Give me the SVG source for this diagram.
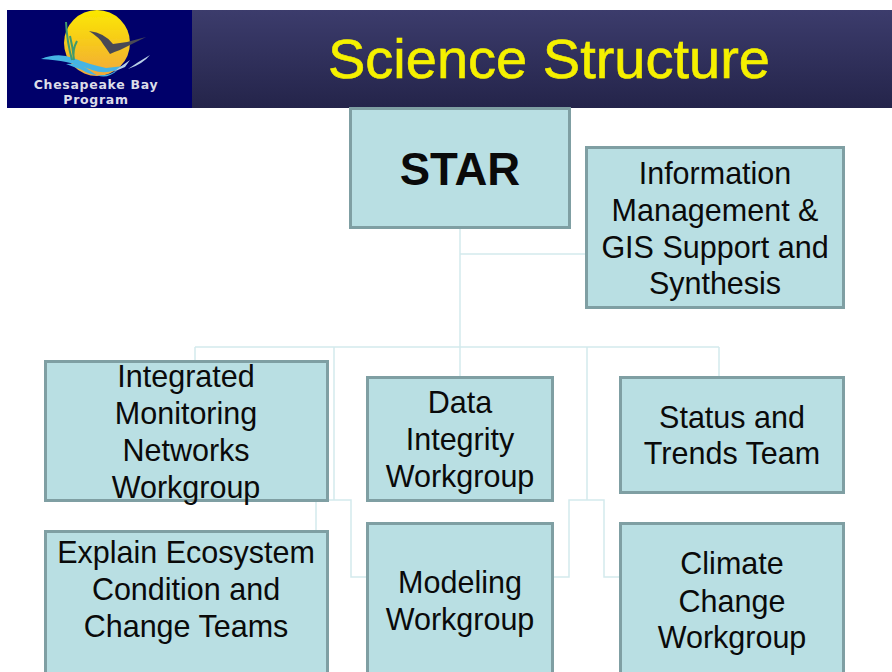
<svg xmlns="http://www.w3.org/2000/svg" width="892" height="672" viewBox="0 0 892 672">
<style>
.box{fill:#b9dfe3;stroke:#7f9fa3;stroke-width:3}
.t{font-family:"Liberation Sans",Arial,sans-serif;font-size:30.500px;fill:#0a0a0a;text-anchor:middle}
.c{fill:none;stroke:#d3eaed;stroke-width:1.500}
.l{font-family:"DejaVu Sans",sans-serif;font-weight:bold;font-size:12.500px;letter-spacing:.7px;fill:#dcdce8;text-anchor:middle}
</style>
<defs>
<linearGradient id="bar" x1="0" y1="0" x2="0" y2="1"><stop offset="0" stop-color="#3c3c6c"/><stop offset="1" stop-color="#24244a"/></linearGradient>
<linearGradient id="sun" x1="0" y1="0" x2="0" y2="1"><stop offset="0" stop-color="#fbe800"/><stop offset="1" stop-color="#f2a93a"/></linearGradient>
<filter id="soft"><feGaussianBlur stdDeviation="0.700"/></filter>
</defs>
<rect width="892" height="672" fill="#fff"/>
<g id="header">
<rect x="192" y="10" width="700" height="98" fill="url(#bar)"/>
<rect x="7" y="10" width="185" height="98" fill="#00006a"/>
<g id="logo" filter="url(#soft)">
<circle cx="97" cy="43" r="33" fill="url(#sun)"/>
<path d="M41 59Q58 52 73 58T106 68L124 66Q108 76 92 70T66 62T41 59Z" fill="#45b4e4"/>
<path d="M66 64Q80 62 92 72T118 70L110 74Q94 78 82 70Z" fill="#45b4e4"/>
<path d="M128 69Q138 62 150 55Q143 64 128 69ZM113 72L130 60L125 67Z" fill="#b8cfe6"/>
<path d="M66 22Q67 42 72 60M74 60Q72 50 77 41M70 36Q73 48 74 60" fill="none" stroke="#3f9a6e" stroke-width="2"/>
<path d="M89 31Q105 33 113 44L127 42L146 37L128 46L120 50Q114 52 110 54Q106 48 103 44Q100 38 89 31Z" fill="#4a4a55"/>
</g>
<text class="l" x="96" y="89">Chesapeake Bay</text>
<text class="l" x="96" y="103.500">Program</text>
<text x="549" y="78" font-family="'Liberation Sans',Arial,sans-serif" font-size="56" fill="#f5f000" stroke="#f5f000" stroke-width=".6" text-anchor="middle">Science Structure</text>
</g>
<g id="connectors">
<path class="c" d="M460 228V377M460 254H586M195 347H719M195 347V361M719 347V377M334 347V500M587 347V500"/>
<path class="c" d="M316 531V500H351V577H367M553 577H569V500H604V577H620"/>
</g>
<g id="star"><rect class="box" x="350.500" y="108.500" width="219" height="119"/>
<text x="460" y="185" font-family="'Liberation Sans',Arial,sans-serif" font-size="45.500" font-weight="bold" fill="#0a0a0a" text-anchor="middle">STAR</text></g>
<g id="info"><rect class="box" x="586.500" y="147.500" width="257" height="160"/>
<text class="t" x="715" y="184">Information</text><text class="t" x="715" y="221">Management &amp;</text><text class="t" x="715" y="258">GIS Support and</text><text class="t" x="715" y="294">Synthesis</text></g>
<g id="integrated"><rect class="box" x="45.500" y="361.500" width="282" height="139"/>
<text class="t" x="186" y="387">Integrated</text><text class="t" x="186" y="424">Monitoring</text><text class="t" x="186" y="461">Networks</text><text class="t" x="186" y="498">Workgroup</text></g>
<g id="data"><rect class="box" x="367.500" y="377.500" width="185" height="123"/>
<text class="t" x="460" y="413">Data</text><text class="t" x="460" y="450">Integrity</text><text class="t" x="460" y="487">Workgroup</text></g>
<g id="status"><rect class="box" x="620.500" y="377.500" width="223" height="115"/>
<text class="t" x="732" y="428">Status and</text><text class="t" x="732" y="464">Trends Team</text></g>
<g id="explain"><rect class="box" x="45.500" y="531.500" width="282" height="150"/>
<text class="t" x="186" y="563">Explain Ecosystem</text><text class="t" x="186" y="600">Condition and</text><text class="t" x="186" y="637">Change Teams</text></g>
<g id="modeling"><rect class="box" x="367.500" y="523.500" width="185" height="160"/>
<text class="t" x="460" y="593">Modeling</text><text class="t" x="460" y="630">Workgroup</text></g>
<g id="climate"><rect class="box" x="620.500" y="523.500" width="223" height="160"/>
<text class="t" x="732" y="574">Climate</text><text class="t" x="732" y="612">Change</text><text class="t" x="732" y="648">Workgroup</text></g>
</svg>
